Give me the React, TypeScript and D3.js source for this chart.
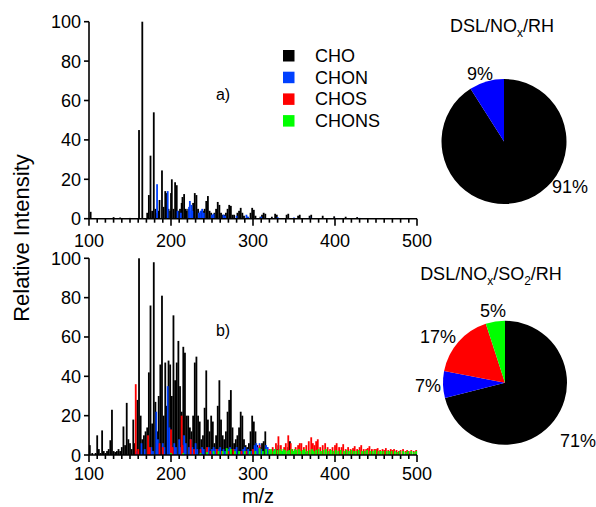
import React from "react";
import * as d3 from "d3";

type Pt = [number, number];

const SERIES = ["CHO", "CHON", "CHOS", "CHONS"];
const BAR_COLORS = ["#000000", "#0040ff", "#ff0000", "#00ff00"];
const PIE_COLORS = ["#000000", "#0000ff", "#ff0000", "#00ff00"];
const X_TICKS = [100, 200, 300, 400, 500];
const Y_TICKS = [0, 20, 40, 60, 80, 100];

const choA: Pt[] = [[102,3.5],[130,0.8],[138,0.6],[150,0.4],[161,45],[165,100],[171,3],[173,12],[175,32],[177,4],[179,54],[181,5],[183,3],[185,4],[186,9.5],[189,24.5],[191,6],[193,14],[194,13],[197,5],[199,4],[200,13],[201,20],[203,5],[205,18.5],[207,17],[209,4],[211,5],[213,8],[214,11],[216,12.5],[218,5],[219,4],[221,5],[225,4],[227,8],[229,13],[231,12],[233,5],[235,3],[237,4],[239,4],[241,5],[243,9],[245,11.5],[247,4],[249,3],[251,2],[253,3],[255,5],[257,8.5],[259,7],[261,3],[263,2],[265,2],[267,3],[269,5],[271,7],[273,6.5],[275,2],[277,2],[281,3],[283,4],[285,5.5],[287,3],[289,1.5],[293,1],[297,3],[299,5.5],[301,4.5],[303,1.5],[309,1],[311,2],[313,3],[315,2.5],[323,1],[327,2.5],[329,2],[341,2],[343,2.5],[355,1.5],[357,2],[369,1.5],[371,2],[385,1.5],[399,1.2],[413,1],[427,0.8]];
const chonA: Pt[] = [[183,17.5],[196,14],[208,4],[212,3],[222,6],[223,9],[225,7],[226,4],[234,3],[236,4],[238,5],[240,3],[250,2],[252,2.5],[264,2],[266,1.5],[280,1.5],[292,2],[294,1],[310,1],[330,0.8],[350,0.6],[370,0.5],[400,0.4],[430,0.4],[460,0.3],[490,0.3]];

const choB: Pt[] = [[101,5],[104,1],[108,1],[110,10],[112,3],[114,1],[116,12.5],[118,2],[120,1],[122,2],[124,3],[126,7.5],[128,23],[130,2],[132,1.5],[134,2],[136,3],[138,2],[140,4],[142,14.5],[144,5],[146,26.5],[148,8],[150,6],[152,3],[154,18],[156,6],[159,28],[161,100],[163,20],[165,8],[167,10],[169,12],[171,14],[173,42],[175,76],[177,16],[179,98],[181,27],[183,12],[185,30],[187,46],[189,81],[191,20],[193,47],[195,25],[197,48],[199,46],[201,30],[203,71],[205,38],[207,47],[209,58],[211,35],[213,22],[215,55],[217,52],[219,20],[221,20],[223,14],[225,12],[227,20],[229,47],[231,50],[233,20],[235,17],[237,8],[239,10],[241,24],[243,43],[245,18],[247,12],[249,20],[251,17],[253,6],[255,10],[257,25],[259,38],[261,18],[263,10],[265,8],[267,12],[269,22],[271,28],[273,33],[275,14],[277,6],[279,8],[281,10],[283,14],[285,22],[287,20],[289,8],[291,5],[293,4],[295,6],[297,12],[299,20],[301,17],[303,12],[305,5],[307,3],[309,4],[311,6],[313,7],[315,12],[317,4],[319,2],[321,1.5],[325,2],[329,3],[331,5],[335,2],[339,3],[343,4],[345,7],[349,2],[359,1.5],[373,1.5]];
const chonB: Pt[] = [[158,2],[164,6],[168,3],[176,4],[178,2],[182,22],[184,8],[190,6],[192,4],[196,35],[198,14],[200,5],[204,6],[206,4],[210,8],[212,4],[216,10],[218,6],[222,4],[224,8],[226,4],[230,6],[232,3],[238,4],[240,3],[244,3],[246,4],[250,3],[252,4],[254,3],[258,3],[260,4],[264,3],[266,2],[270,3],[272,4],[278,3],[280,4],[284,2],[288,3],[290,4],[294,3],[298,2],[302,5],[304,6],[306,4],[308,6],[310,3],[316,5],[318,4],[322,2],[326,3],[336,2],[350,1.5],[364,1.5],[378,1],[392,1],[406,1.2],[420,0.8],[436,2],[448,1],[462,1.5],[478,1],[490,1]];
const chosB: Pt[] = [[157,36],[160,3],[172,10],[174,4],[186,6],[190,4],[200,13],[202,4],[213,20],[214,5],[224,8],[228,3],[236,3],[244,4],[248,2],[256,3],[262,2],[270,2],[276,3],[286,2],[292,2],[300,3],[308,5],[320,3],[324,4],[328,6],[331,9.5],[334,5],[338,4],[340,6],[343,10],[346,6],[348,3],[352,4],[355,5],[357,6],[359,6],[362,4],[365,5],[368,7],[371,9],[373,6],[375,5],[377,7],[379,8],[382,4],[385,5],[388,6],[391,4],[394,3],[397,4],[400,5],[402,6],[405,4],[408,4],[410,5.5],[413,3],[416,4],[419,3],[422,3.5],[424,4.5],[427,3],[430,4],[432,5],[435,3],[438,3],[440,3.5],[442,4.5],[445,3],[448,3],[450,3],[452,3.5],[455,2.5],[458,3],[460,2.5],[462,3.5],[465,2.5],[468,3],[470,2.5],[472,3],[475,2.5],[478,2],[480,2.5],[483,3],[486,2],[488,2.5],[490,2],[493,2.5],[496,2],[499,2.5]];
const chonsB: Pt[] = [[200,1],[215,1],[236,1],[244,1.5],[252,2],[258,2],[263,2],[268,3.5],[273,3],[278,2],[283,2],[290,2],[296,2],[303,2],[308,3.5],[312,2],[316,3],[320,2.5],[322,3],[325,2],[327,3],[330,2.5],[333,3],[335,2],[337,3],[339,2.5],[342,2],[344,2.5],[347,3],[349,2],[351,3],[353,2.5],[356,3],[358,2],[361,2.5],[363,3],[366,2],[369,2.5],[372,3],[374,2],[377,2.5],[380,3],[383,2],[386,2.5],[389,3],[392,2],[395,2.5],[398,2],[401,2.5],[404,2],[407,2.5],[411,2],[414,2.5],[417,2],[420,2.5],[423,2],[426,2],[429,2.5],[433,2],[436,2],[439,2.5],[443,2],[446,2],[449,2.5],[453,2],[456,2],[459,2],[463,2],[466,2],[469,2],[473,2],[476,1.5],[479,2],[483,2],[486,1.5],[489,2],[493,2],[496,1.5],[499,2]];

const pieA = [91, 9];
const pieALabels = ["91%", "9%"];
const pieB = [71, 7, 17, 5];
const pieBLabels = ["71%", "7%", "17%", "5%"];

const FONT = "'Liberation Sans', Arial, sans-serif";

const x = d3.scaleLinear().domain([100, 500]).range([89, 417]);
const BAR_W = 1.8;

function Panel({ y0, y1, series, tag, labelGap }: { y0: number; y1: number; series: Pt[][]; tag: string; labelGap: number }) {
  const y = d3.scaleLinear().domain([0, 100]).range([y0, y1]);
  const minor = d3.range(100, 501, 10);
  return (
    <g>
      {series.map((s, si) => (
        <g key={si} fill={BAR_COLORS[si]}>
          {s.map(([m, v], i) => (
            <rect key={i} x={x(m) - BAR_W / 2} y={y(v)} width={BAR_W} height={y(0) - y(v)} />
          ))}
        </g>
      ))}
      <g stroke="#000" strokeWidth={1.6}>
        <line x1={x(100)} x2={x(500)} y1={y(0)} y2={y(0)} />
        <line x1={x(100)} x2={x(100)} y1={y(0)} y2={y(100)} />
        {minor.map((m) => (
          <line key={m} x1={x(m)} x2={x(m)} y1={y(0)} y2={y(0) + (m % 100 === 0 ? 7 : 4)} />
        ))}
        {Y_TICKS.map((t) => (
          <line key={t} x1={x(100) - 5} x2={x(100)} y1={y(t)} y2={y(t)} />
        ))}
      </g>
      <g fontFamily={FONT} fontSize={18} fill="#000">
        {X_TICKS.map((t) => (
          <text key={t} x={x(t)} y={y(0) + labelGap} textAnchor="middle">{t}</text>
        ))}
        {Y_TICKS.map((t) => (
          <text key={t} x={x(100) - 8} y={y(t) + 6.5} textAnchor="end">{t}</text>
        ))}
        <text x={223} y={y0 - 119} textAnchor="middle" fontSize={16}>{tag}</text>
      </g>
    </g>
  );
}

function Pie({ cx, cy, r, values, labels, labelPos }: { cx: number; cy: number; r: number; values: number[]; labels: string[]; labelPos: [number, number][] }) {
  const arcs = d3.pie<number>().sort(null).value((d) => d)(values);
  const arc = d3.arc<d3.PieArcDatum<number>>().innerRadius(0).outerRadius(r);
  return (
    <g>
      <g transform={`translate(${cx},${cy})`}>
        {arcs.map((a, i) => (
          <path key={i} d={arc(a) || ""} fill={PIE_COLORS[i]} />
        ))}
      </g>
      <g fontFamily={FONT} fontSize={18} fill="#000">
        {labels.map((l, i) => (
          <text key={i} x={cx + labelPos[i][0]} y={cy + labelPos[i][1]} textAnchor="middle">{l}</text>
        ))}
      </g>
    </g>
  );
}

export default function App() {
  return (
    <div style={{ position: "absolute", left: 0, top: 0 }}>
      <svg width={596} height={507} style={{ display: "block", background: "#fff" }}>
        <Panel y0={218.7} y1={21.7} series={[choA, chonA]} tag="a)" labelGap={28} />
        <Panel y0={455} y1={258.3} series={[choB, chonB, chosB, chonsB]} tag="b)" labelGap={25} />
        <text x={22} y={238} transform="rotate(-90 22 238)" textAnchor="middle" fontFamily={FONT} fontSize={22} dy={7}>Relative Intensity</text>
        <text x={258} y={503} textAnchor="middle" fontFamily={FONT} fontSize={20}>m/z</text>
        <g fontFamily={FONT} fontSize={18}>
          {SERIES.map((s, i) => (
            <g key={s}>
              <rect x={283} y={50 + i * 21.7} width={11.5} height={11.5} fill={BAR_COLORS[i]} />
              <text x={315} y={62 + i * 21.7}>{s}</text>
            </g>
          ))}
        </g>
        <text x={502} y={32} textAnchor="middle" fontFamily={FONT} fontSize={18}>
          DSL/NO<tspan fontSize={12} dy={5}>x</tspan><tspan dy={-5}>/RH</tspan>
        </text>
        <text x={491} y={280} textAnchor="middle" fontFamily={FONT} fontSize={18}>
          DSL/NO<tspan fontSize={12} dy={5}>x</tspan><tspan dy={-5}>/SO</tspan><tspan fontSize={12} dy={5}>2</tspan><tspan dy={-5}>/RH</tspan>
        </text>
        <Pie cx={504} cy={141.5} r={62.5} values={pieA} labels={pieALabels} labelPos={[[66, 51.5], [-24, -61.5]]} />
        <Pie cx={505} cy={382.7} r={62} values={pieB} labels={pieBLabels} labelPos={[[73, 64.3], [-77, 9.3], [-67, -39.7], [-12, -65.7]]} />
      </svg>
    </div>
  );
}
